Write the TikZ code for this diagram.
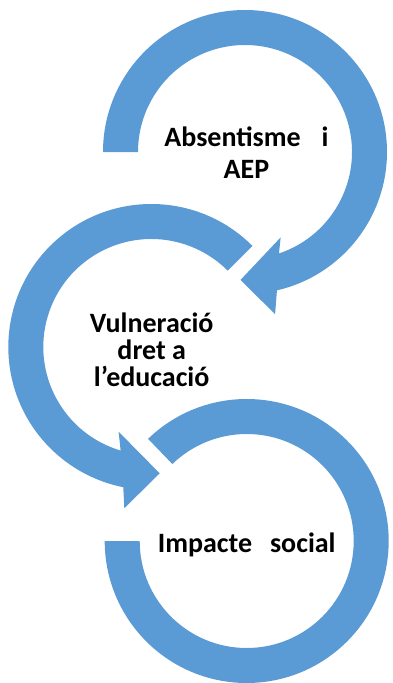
\documentclass[tikz,border=0pt]{standalone}
\usepackage{fontspec}
\setmainfont{Carlito}
\definecolor{ringblue}{HTML}{5B9BD5}
\tikzset{
  band/.style={fill=ringblue},
  lbl/.style={font=\bfseries\fontsize{28}{31.7}\selectfont, align=center}
}
\begin{document}
\begin{tikzpicture}[x=1pt,y=1pt]
\useasboundingbox (0,0) rectangle (392,-683);

% top arrow
\begin{scope}[shift={(245,-152)}]
\fill[band] (180:142) arc[start angle=180,end angle=-77,radius=142]
  -- (-79.5:165) -- (-92:128) -- (-67.3:92.5) -- (-71.5:107)
  arc[start angle=-71.5,end angle=180,radius=107] -- cycle;
\end{scope}

% middle arrow
\begin{scope}[shift={(151.3,-347)}]
\fill[band] (45:143) arc[start angle=45,end angle=258.7,radius=143]
  -- (260.5:163.5) -- (273.8:126.6) -- (248.9:90.8) -- (253.5:108)
  arc[start angle=253.5,end angle=45,radius=108] -- cycle;
\end{scope}

% bottom arrow
\begin{scope}[shift={(246.7,-541)}]
\fill[band] (134:142) arc[start angle=134,end angle=-180,radius=142]
  -- (180:107) arc[start angle=180,end angle=494,radius=107] -- cycle;
\end{scope}

\node[lbl] (absent) at (246.5,-153) {Absentisme\hspace{21pt}i\\AEP};
\node[lbl,font=\bfseries\fontsize{28}{27}\selectfont] (vulnera) at (151.7,-350) {Vulneració\\dret a\\l’educació};
\node[lbl,anchor=base] (impacte) at (246.7,-552.3) {Impacte\hspace{18pt}social};
\end{tikzpicture}
\end{document}
